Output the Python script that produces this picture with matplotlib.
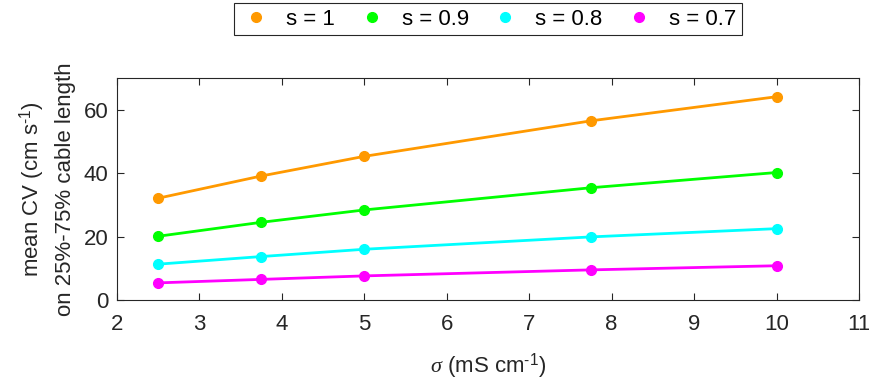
import numpy as np
import matplotlib.pyplot as plt
from matplotlib.lines import Line2D

plt.rcParams['font.family'] = ['Liberation Sans', 'DejaVu Sans']
plt.rcParams['mathtext.fontset'] = 'custom'
plt.rcParams['mathtext.rm'] = 'Liberation Sans'
plt.rcParams['mathtext.it'] = 'Liberation Serif:italic'
plt.rcParams['font.size'] = 16

# data
sigma = [2.5, 3.75, 5, 7.75, 10]
cv_s1 = [32.1, 39.1, 45.3, 56.5, 64.1]
cv_s09 = [20.1, 24.5, 28.4, 35.4, 40.2]
cv_s08 = [11.3, 13.7, 16.0, 19.9, 22.5]
cv_s07 = [5.4, 6.5, 7.6, 9.5, 10.8]
labels = ['s = 1', 's = 0.9', 's = 0.8', 's = 0.7']
colors = ['#FF9900', '#00FF00', '#00FFFF', '#FF00FF']

fig = plt.figure(figsize=(8.69, 3.84), dpi=100)
ax = fig.add_axes([117/869, 1-300/384, (859-117)/869, (300-78)/384])

handles = []
for y, c, lab in zip([cv_s1, cv_s09, cv_s08, cv_s07], colors, labels):
    ax.plot(sigma, y, '-o', color=c, lw=2, ms=7)
    handles.append(Line2D([], [], ls='none', marker='o', color=c, ms=7, label=lab))

ax.set_xlim(2, 11)
ax.set_ylim(0, 70)
ax.set_xticks(range(2, 12))
ax.set_yticks([0, 20, 40, 60])
ax.tick_params(direction='in', top=True, right=True, length=5, colors='#262626',
               labelcolor='#262626', labelsize=16)
ax.tick_params(axis='x', pad=10)
ax.tick_params(axis='y', pad=6)
for sp in ax.spines.values():
    sp.set_color('#262626')
    sp.set_linewidth(0.8)

ax.set_xlabel(r'$\sigma$ (mS cm$^{\text{-}1}$)', fontsize=16, color='#262626', labelpad=12)
ax.set_ylabel('mean CV (cm s$^{\\text{-}1}$)\non 25%-75% cable length', fontsize=16,
              color='#262626', linespacing=1.45, labelpad=6)

fig.legend(handles=handles, loc='upper center', bbox_to_anchor=(488/869, 1-3/384),
           borderaxespad=0, ncol=4, fancybox=False, edgecolor='#262626', framealpha=1,
           handletextpad=0.6, columnspacing=0.9, fontsize=16, borderpad=0.25,
           handlelength=1.5)
leg = fig.legends[0]
leg.get_frame().set_linewidth(0.8)

fig.savefig('out.png', dpi=100)
